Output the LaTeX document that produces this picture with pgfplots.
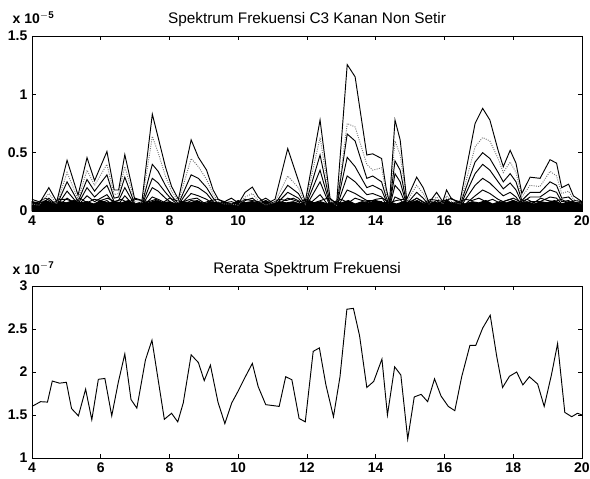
\documentclass[border=0pt]{standalone}
\usepackage{pgfplots}
\pgfplotsset{compat=1.18}
\usepackage{pgfplotstable}
\usepackage{fontspec}
\setmainfont{Liberation Sans}

% spectra of single trials, values in units of 1e-5
\pgfplotstableread{
x     a     b    c    d    e    f
4.00  0.08  0.06 0.05 0.04 0.03 0.02
4.20  0.06  0.05 0.04 0.04 0.03 0.02
4.49  0.20  0.15 0.11 0.08 0.06 0.04
4.72  0.08  0.06 0.05 0.04 0.03 0.03
5.02  0.435 0.33 0.25 0.17 0.11 0.07
5.34  0.135 0.10 0.08 0.06 0.05 0.03
5.60  0.457 0.35 0.27 0.20 0.13 0.08
5.82  0.26  0.22 0.17 0.12 0.08 0.05
6.18  0.51  0.40 0.31 0.22 0.14 0.09
6.39  0.18  0.14 0.11 0.08 0.06 0.04
6.52  0.18  0.15 0.12 0.09 0.06 0.04
6.70  0.483 0.38 0.29 0.20 0.13 0.08
6.99  0.10  0.08 0.06 0.05 0.04 0.03
7.20  0.09  0.07 0.06 0.05 0.04 0.03
7.50  0.83  0.64 0.40 0.28 0.20 0.12
7.67  0.63  0.50 0.34 0.24 0.17 0.10
7.88  0.38  0.30 0.22 0.16 0.11 0.07
8.06  0.21  0.17 0.13 0.10 0.07 0.05
8.26  0.10  0.08 0.06 0.05 0.04 0.03
8.63  0.61  0.45 0.31 0.22 0.15 0.09
8.84  0.46  0.38 0.28 0.20 0.13 0.08
9.08  0.35  0.27 0.20 0.15 0.10 0.06
9.27  0.18  0.14 0.11 0.08 0.06 0.04
9.42  0.10  0.08 0.06 0.05 0.04 0.03
9.60  0.07  0.06 0.05 0.04 0.03 0.02
9.80  0.08  0.06 0.05 0.04 0.03 0.03
10.00 0.06  0.05 0.04 0.04 0.03 0.02
10.20 0.16  0.12 0.09 0.07 0.05 0.03
10.41 0.205 0.15 0.11 0.08 0.06 0.04
10.58 0.12  0.09 0.07 0.05 0.04 0.03
10.80 0.06  0.05 0.04 0.04 0.03 0.02
11.07 0.10  0.08 0.06 0.05 0.04 0.03
11.44 0.535 0.30 0.22 0.16 0.11 0.07
11.75 0.26  0.20 0.15 0.11 0.08 0.05
11.95 0.08  0.06 0.05 0.04 0.03 0.03
12.38 0.78  0.63 0.48 0.35 0.25 0.14
12.67 0.11  0.09 0.07 0.05 0.04 0.03
12.86 0.06  0.05 0.04 0.04 0.03 0.02
13.17 1.255 0.75 0.66 0.46 0.30 0.18
13.40 1.15  0.72 0.60 0.38 0.25 0.15
13.74 0.48  0.40 0.28 0.20 0.14 0.09
13.91 0.49  0.35 0.30 0.22 0.15 0.09
14.17 0.45  0.37 0.25 0.18 0.12 0.08
14.30 0.20  0.16 0.12 0.09 0.06 0.04
14.40 0.07  0.06 0.05 0.04 0.03 0.02
14.56 0.78  0.60 0.43 0.32 0.22 0.12
14.71 0.61  0.48 0.35 0.25 0.17 0.10
14.90 0.10  0.08 0.06 0.05 0.04 0.03
15.19 0.29  0.22 0.16 0.11 0.08 0.05
15.38 0.20  0.15 0.11 0.08 0.06 0.04
15.55 0.07  0.06 0.05 0.04 0.03 0.02
15.77 0.16  0.12 0.09 0.07 0.05 0.03
15.95 0.08  0.06 0.05 0.04 0.03 0.02
16.06 0.18  0.13 0.10 0.07 0.05 0.03
16.21 0.10  0.08 0.06 0.05 0.04 0.03
16.45 0.08  0.06 0.05 0.04 0.03 0.02
16.89 0.75  0.55 0.42 0.32 0.22 0.13
17.11 0.88  0.63 0.50 0.40 0.28 0.18
17.32 0.78  0.60 0.45 0.35 0.24 0.15
17.56 0.52  0.45 0.33 0.25 0.17 0.10
17.71 0.38  0.33 0.25 0.19 0.13 0.08
17.91 0.52  0.42 0.32 0.24 0.16 0.10
18.08 0.41  0.33 0.25 0.18 0.12 0.08
18.25 0.15  0.12 0.09 0.07 0.05 0.03
18.49 0.29  0.22 0.16 0.12 0.08 0.05
18.78 0.28  0.21 0.16 0.12 0.08 0.05
19.07 0.44  0.34 0.25 0.18 0.12 0.08
19.26 0.41  0.30 0.22 0.16 0.11 0.07
19.41 0.20  0.15 0.11 0.08 0.06 0.04
19.61 0.23  0.17 0.12 0.09 0.06 0.04
19.75 0.13  0.10 0.08 0.06 0.04 0.03
20.00 0.08  0.06 0.05 0.04 0.03 0.02
}\trials

% low-level noise floor of the trials
\pgfplotstableread{
x    n1   n2
4.0  0.08 0.10
4.2  0.07 0.08
4.4  0.09 0.11
4.6  0.06 0.07
4.8  0.08 0.10
5.0  0.07 0.10
5.2  0.09 0.08
5.4  0.07 0.11
5.6  0.08 0.07
5.8  0.06 0.10
6.0  0.09 0.09
6.2  0.07 0.11
6.4  0.08 0.08
6.6  0.07 0.10
6.8  0.09 0.07
7.0  0.06 0.11
7.2  0.08 0.09
7.4  0.07 0.08
7.6  0.09 0.10
7.8  0.07 0.07
8.0  0.08 0.11
8.2  0.06 0.09
8.4  0.08 0.08
8.6  0.07 0.10
8.8  0.09 0.11
9.0  0.06 0.07
9.2  0.08 0.09
9.4  0.07 0.10
9.6  0.08 0.08
9.8  0.06 0.11
10.0 0.09 0.07
10.2 0.07 0.10
10.4 0.08 0.09
10.6 0.07 0.08
10.8 0.09 0.11
11.0 0.06 0.07
11.2 0.08 0.10
11.4 0.07 0.09
11.6 0.08 0.11
11.8 0.06 0.08
12.0 0.09 0.10
12.2 0.07 0.07
12.4 0.08 0.09
12.6 0.06 0.11
12.8 0.08 0.08
13.0 0.07 0.10
13.2 0.09 0.07
13.4 0.06 0.11
13.6 0.08 0.09
13.8 0.07 0.08
14.0 0.09 0.10
14.2 0.07 0.11
14.4 0.08 0.07
14.6 0.06 0.09
14.8 0.08 0.10
15.0 0.07 0.08
15.2 0.09 0.11
15.4 0.06 0.07
15.6 0.08 0.10
15.8 0.07 0.09
16.0 0.09 0.08
16.2 0.07 0.11
16.4 0.08 0.07
16.6 0.06 0.10
16.8 0.08 0.09
17.0 0.07 0.11
17.2 0.09 0.08
17.4 0.06 0.10
17.6 0.08 0.07
17.8 0.07 0.09
18.0 0.09 0.11
18.2 0.07 0.08
18.4 0.08 0.10
18.6 0.06 0.07
18.8 0.08 0.11
19.0 0.07 0.09
19.2 0.09 0.08
19.4 0.06 0.10
19.6 0.08 0.07
19.8 0.07 0.09
20.0 0.08 0.08
}\noise

% mean spectrum, values in units of 1e-7
\pgfplotstableread{
x     y
4.00  1.60
4.25  1.655
4.45  1.65
4.59  1.895
4.80  1.87
5.00  1.88
5.15  1.575
5.35  1.49
5.56  1.80
5.74  1.445
5.93  1.915
6.12  1.925
6.32  1.49
6.51  1.88
6.70  2.21
6.88  1.68
7.05  1.58
7.30  2.14
7.49  2.37
7.85  1.45
8.06  1.52
8.24  1.42
8.40  1.64
8.63  2.20
8.84  2.11
9.01  1.90
9.19  2.08
9.41  1.65
9.61  1.40
9.81  1.64
10.00 1.78
10.20 1.94
10.41 2.10
10.58 1.83
10.80 1.62
11.00 1.61
11.19 1.60
11.38 1.945
11.56 1.91
11.77 1.46
11.95 1.42
12.18 2.24
12.36 2.28
12.55 1.85
12.77 1.48
12.96 1.945
13.16 2.73
13.35 2.74
13.53 2.42
13.74 1.82
13.94 1.89
14.18 2.15
14.34 1.50
14.55 2.06
14.73 1.965
14.93 1.22
15.12 1.71
15.32 1.74
15.51 1.655
15.71 1.92
15.90 1.72
16.11 1.60
16.30 1.55
16.50 1.945
16.74 2.31
16.91 2.31
17.11 2.51
17.33 2.66
17.52 2.18
17.69 1.82
17.89 1.95
18.10 2.00
18.28 1.85
18.47 1.945
18.71 1.86
18.90 1.60
19.11 1.965
19.29 2.33
19.50 1.53
19.70 1.48
19.87 1.52
20.00 1.50
}\mean

\pgfplotsset{
  matlab/.style={
    scale only axis, width=412.5pt,
    xmin=4, xmax=20, xtick={4,6,...,20},
    xticklabels={4,6,8,10,12,14,16,18,20},
    scaled ticks=false,
    tick align=inside, xtick pos=both, ytick pos=both,
    major tick length=3pt,
    tick style={black, thin},
    axis line style={black, thin},
    ticklabel style={font=\fontsize{10.5}{12}\selectfont\bfseries},
    title style={font=\fontsize{11.5}{13}\selectfont, at={(0.5,1)}, anchor=base, yshift=3.5pt},
    clip=false,
  }
}

\begin{document}
\begin{tikzpicture}
\useasboundingbox (0,0) rectangle (442.5pt,359.25pt);

\begin{axis}[matlab, at={(24pt,201pt)}, anchor=south west, height=131.25pt,
    ymin=0, ymax=1.5, ytick={0,0.5,1,1.5}, yticklabels={0,0.5,1,1.5},
    title={Spektrum Frekuensi C3 Kanan Non Setir}]
\addplot[fill=black, draw=black, line width=0.7pt] table[x=x, y=n1] {\noise} \closedcycle;
\addplot[black, line width=0.7pt] table[x=x, y=n2] {\noise};
\addplot[black, line width=0.7pt] table[x=x, y=f] {\trials};
\addplot[black, line width=0.7pt] table[x=x, y=e] {\trials};
\addplot[black, line width=0.7pt] table[x=x, y=d] {\trials};
\addplot[black, line width=0.7pt] table[x=x, y=c] {\trials};
\addplot[black!55, densely dotted, line width=0.7pt] table[x=x, y=b] {\trials};
\addplot[black, line width=0.7pt] table[x=x, y=a] {\trials};
\node[anchor=base west, font=\fontsize{10.5}{12}\selectfont\bfseries]
    at (rel axis cs:0,1) [xshift=-18pt, yshift=9pt] {x 10$^{\mathbf{-5}}$};
\end{axis}

\begin{axis}[matlab, at={(24pt,15.75pt)}, anchor=south west, height=129pt,
    ymin=1, ymax=3, ytick={1,1.5,2,2.5,3}, yticklabels={1,1.5,2,2.5,3},
    title={Rerata Spektrum Frekuensi}]
\addplot[black, line width=0.7pt] table[x=x, y=y] {\mean};
\node[anchor=base west, font=\fontsize{10.5}{12}\selectfont\bfseries]
    at (rel axis cs:0,1) [xshift=-18pt, yshift=9pt] {x 10$^{\mathbf{-7}}$};
\end{axis}
\end{tikzpicture}
\end{document}
